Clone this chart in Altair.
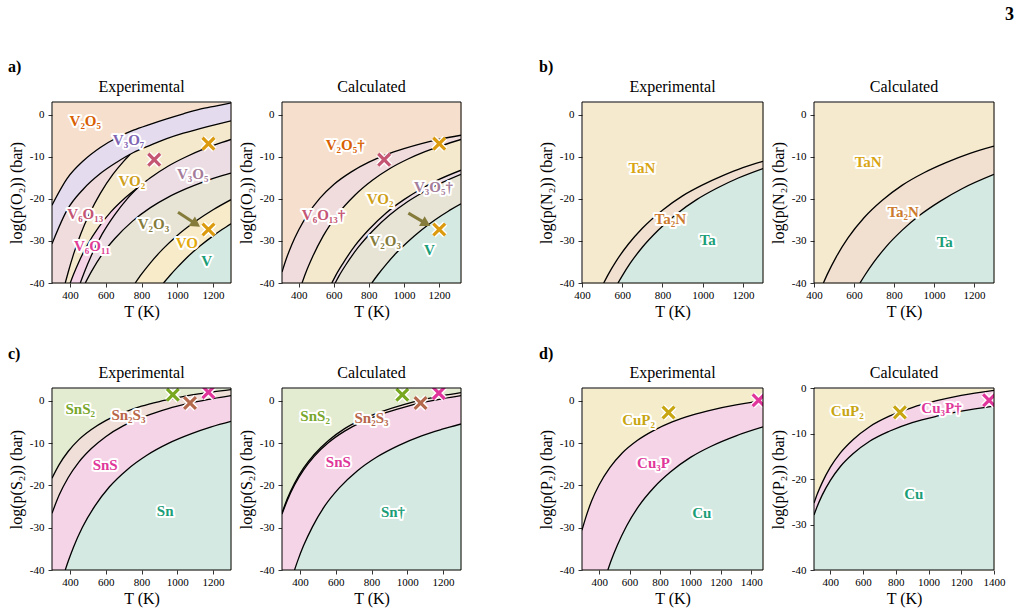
import altair as alt
import pandas as pd

FONT = "Liberation Serif, DejaVu Serif, serif"
TEAL = "#1b9e77"
TEAL_FILL = "#d3e9e1"
PINK_FILL = "#f6d4e7"

# ---------------- a) V-O ----------------
# experimental boundaries (T in K, log p(O2) in bar)
AE_T1 = [300, 384, 477, 570, 662, 755, 848, 941, 1034, 1127, 1220, 1300]
AE_C1 = [-21.5, -15.2, -10.9, -7.8, -5.5, -3.7, -2.3, -1.0, 0.2, 1.3, 2.1, 2.8]        # V2O5 | V3O7
AE_C2 = [-30.7, -22.7, -17.6, -14.0, -11.3, -9.0, -7.3, -5.7, -4.4, -3.3, -2.3, -1.5]  # V3O7 | lower oxides
AE_T3 = [374, 390, 420, 460, 510, 570, 640, 700, 737]
AE_C3 = [-40, -37.5, -33.2, -28.4, -23.5, -18.7, -14.2, -11.1, -9.4]                    # V6O13 | VO2
AE_T4 = [402, 420, 450, 500, 560, 630, 700, 783, 850, 950, 1050, 1150, 1250, 1300]
AE_C4 = [-40, -38.0, -35.0, -30.8, -26.8, -23.05, -20.1, -17.2, -15.0, -12.2, -10.0, -8.15, -6.6, -5.9]  # VO2 | V6O11, V3O5
AE_T5 = [458, 480, 520, 580, 650, 720, 783]
AE_C5 = [-40, -37.5, -33.45, -28.4, -23.8, -20.0, -17.2]                                # V6O11 | V3O5
AE_T6 = [486, 520, 580, 650, 750, 850, 950, 1050, 1150, 1250, 1300]
AE_C6 = [-40, -37.3, -33.2, -29.5, -25.3, -22.1, -19.6, -17.6, -15.9, -14.5, -13.9]    # V3O5 | V2O3
AE_T7 = [765, 800, 850, 920, 1000, 1100, 1200, 1300]
AE_C7 = [-40, -37.9, -35.2, -31.9, -28.7, -25.4, -22.6, -20.2]                          # V2O3 | VO
AE_T8 = [923, 960, 1000, 1060, 1130, 1200, 1250, 1300]
AE_C8 = [-40, -38.15, -36.3, -33.7, -31.1, -28.8, -27.3, -25.9]                         # VO | V
AE_PINCH_V6O13 = 737
AE_PINCH_V6O11 = 783

AE_LABELS = ["V₂O₅", "V₃O₇", "VO₂", "V₃O₅", "V₆O₁₃", "V₂O₃", "V₆O₁₁", "VO", "V"]
AE_LABEL_T = [486, 728, 746, 1086, 486, 867, 523, 1053, 1164]
AE_LABEL_P = [-1.5, -6.1, -15.8, -14.2, -23.7, -26.1, -31.1, -30.5, -34.8]
AE_LABEL_COL = ["#d95f02", "#8064b4", "#d09f1a", "#a57d9a", "#c45573", "#857c3c", "#df3d96", "#e3a80c", TEAL]
AE_X_T = [871, 1174, 1174]
AE_X_P = [-10.7, -6.9, -27.3]
AE_X_COL = ["#c45573", "#dc9a0e", "#dc9a0e"]
AE_ARROW_T = [1004, 1104]
AE_ARROW_P = [-23.2, -26.0]

# calculated boundaries
AC_T1 = [305, 330, 360, 400, 450, 520, 600, 700, 800, 900, 1000, 1100, 1200, 1325]
AC_C1 = [-37.4, -34.2, -30.95, -27.4, -23.8, -19.9, -16.6, -13.6, -11.3, -9.5, -8.1, -6.9, -5.9, -4.9]  # V2O5 | V6O13
AC_T2 = [419, 440, 480, 540, 620, 720, 820, 920, 1020, 1120, 1220, 1325]
AC_C2 = [-40, -37.6, -33.7, -28.8, -23.8, -19.15, -15.6, -12.8, -10.6, -8.8, -7.3, -5.9]               # V6O13 | VO2
AC_T3 = [589, 610, 650, 720, 800, 900, 1000, 1100, 1200, 1325]
AC_C3 = [-40, -38.3, -35.5, -31.2, -27.3, -23.3, -20.2, -17.6, -15.4, -13.2]                           # VO2 | V3O5
AC_T4 = [608, 630, 670, 740, 820, 920, 1020, 1120, 1220, 1325]
AC_C4 = [-40, -38.3, -35.6, -31.5, -27.7, -23.8, -20.7, -18.2, -16.1, -14.2]                           # V3O5 | V2O3
AC_T5 = [817, 850, 900, 960, 1030, 1100, 1180, 1250, 1325]
AC_C5 = [-40, -38.1, -35.5, -32.7, -29.9, -27.4, -24.9, -23.0, -21.2]                                  # V2O3 | V

AC_LABELS = ["V₂O₅†", "V₆O₁₃†", "VO₂", "V₃O₅†", "V₂O₃", "V"]
AC_LABEL_T = [665, 542, 864, 1168, 893, 1145]
AC_LABEL_P = [-7.3, -23.9, -20.0, -17.2, -30.0, -32.2]
AC_LABEL_COL = ["#d95f02", "#c45573", "#d09f1a", "#a57d9a", "#857c3c", TEAL]
AC_X_T = [887, 1201, 1201]
AC_X_P = [-10.7, -6.9, -27.3]
AC_X_COL = ["#c45573", "#dc9a0e", "#dc9a0e"]
AC_ARROW_T = [1025, 1126]
AC_ARROW_P = [-23.4, -25.9]

# ---------------- b) Ta-N ----------------
BE_T1 = [508, 530, 570, 630, 700, 800, 900, 1000, 1100, 1200, 1300]
BE_C1 = [-40, -38.0, -34.8, -30.8, -27.0, -22.7, -19.3, -16.7, -14.5, -12.6, -11.1]   # TaN | Ta2N
BE_T2 = [579, 600, 640, 700, 780, 870, 970, 1070, 1180, 1300]
BE_C2 = [-40, -38.3, -35.3, -31.5, -27.4, -23.6, -20.2, -17.5, -15.0, -12.8]          # Ta2N | Ta
BC_T1 = [447, 470, 510, 570, 650, 740, 840, 950, 1060, 1180, 1300]
BC_C1 = [-40, -37.6, -33.9, -29.3, -24.5, -20.4, -16.8, -13.8, -11.4, -9.2, -7.5]
BC_T2 = [630, 655, 700, 760, 840, 930, 1030, 1140, 1300]
BC_C2 = [-40, -38.1, -35.0, -31.4, -27.5, -23.85, -20.6, -17.6, -14.2]

B_LABELS = ["TaN", "Ta₂N", "Ta"]
B_LABEL_COL = ["#d9a514", "#cc7a2e", TEAL]
BE_LABEL_T = [698, 839, 1025]
BE_LABEL_P = [-12.6, -24.7, -29.7]
BC_LABEL_T = [671, 846, 1054]
BC_LABEL_P = [-11.3, -23.1, -30.3]

# ---------------- c) Sn-S ----------------
CE_T12 = [300, 340, 390, 450, 520, 600, 700, 800, 900, 1000, 1100, 1200, 1300]
CE_C1 = [-18.3, -15.1, -12.0, -9.2, -6.8, -4.7, -2.8, -1.3, -0.2, 0.7, 1.5, 2.1, 2.6]     # SnS2 | Sn2S3
CE_C2 = [-26.6, -22.3, -18.2, -14.5, -11.3, -8.5, -5.9, -4.0, -2.5, -1.3, -0.3, 0.5, 1.2]  # Sn2S3 | SnS
CE_T3 = [374, 390, 420, 470, 540, 620, 720, 830, 950, 1080, 1190, 1300]
CE_C3 = [-40, -38.0, -34.6, -29.9, -24.85, -20.4, -16.3, -12.9, -10.1, -7.8, -6.2, -4.9]  # SnS | Sn
CC_T12 = [300, 330, 370, 420, 480, 560, 650, 750, 860, 980, 1100, 1200, 1300]
CC_C1 = [-26.5, -23.1, -19.5, -15.95, -12.7, -9.4, -6.6, -4.35, -2.5, -0.9, 0.35, 1.2, 1.9]
CC_C2 = [-26.8, -23.5, -19.9, -16.4, -13.15, -9.9, -7.2, -4.95, -3.1, -1.55, -0.3, 0.5, 1.2]
CC_T3 = [370, 390, 420, 470, 540, 620, 720, 830, 950, 1080, 1190, 1300]
CC_C3 = [-40, -37.55, -34.3, -29.8, -24.8, -20.6, -16.6, -13.3, -10.6, -8.3, -6.8, -5.5]

C_LABEL_COL = ["#78a72b", "#b8664a", "#e0389a", TEAL]
CE_LABELS = ["SnS₂", "Sn₂S₃", "SnS", "Sn"]
CE_LABEL_T = [458, 727, 597, 932]
CE_LABEL_P = [-1.9, -3.3, -15.1, -26.0]
CC_LABELS = ["SnS₂", "Sn₂S₃", "SnS", "Sn†"]
CC_LABEL_T = [485, 800, 615, 920]
CC_LABEL_P = [-3.7, -4.1, -14.4, -26.2]
C_X_COL = ["#77a820", "#b4684c", "#e0359a"]
CE_X_T = [975, 1071, 1174]
CE_X_P = [1.4, -0.55, 2.0]
CC_X_T = [972, 1074, 1176]
CC_X_P = [1.4, -0.55, 1.8]

# ---------------- d) Cu-P ----------------
DE_T1 = [287, 310, 350, 400, 470, 550, 650, 760, 880, 1010, 1150, 1300, 1400, 1477]
DE_C1 = [-30.6, -27.8, -23.7, -19.85, -15.8, -12.4, -9.4, -7.0, -5.0, -3.4, -2.1, -1.0, -0.4, 0.0]  # CuP2 | Cu3P
DE_T2 = [457, 480, 520, 580, 660, 760, 870, 1000, 1140, 1300, 1477]
DE_C2 = [-40, -37.65, -34.1, -29.6, -24.9, -20.5, -16.8, -13.4, -10.7, -8.3, -6.2]                 # Cu3P | Cu
DC_T12 = [300, 320, 350, 400, 460, 540, 640, 760, 900, 1050, 1200, 1400]
DC_C1 = [-25.3, -23.3, -20.8, -17.4, -14.3, -11.3, -8.5, -6.2, -4.3, -2.8, -1.6, -0.5]
DC_C2 = [-27.9, -26.0, -23.55, -20.3, -17.3, -14.4, -11.7, -9.5, -7.6, -6.2, -5.1, -4.0]

D_LABEL_COL = ["#c8a612", "#e0389a", TEAL]
DE_LABELS = ["CuP₂", "Cu₃P", "Cu"]
DE_LABEL_T = [659, 757, 1075]
DE_LABEL_P = [-4.5, -14.75, -26.6]
DC_LABELS = ["CuP₂", "Cu₃P†", "Cu"]
DC_LABEL_T = [503, 1079, 910]
DC_LABEL_P = [-5.1, -4.4, -23.3]
D_X_COL = ["#c8a612", "#e0359a"]
DE_X_T = [856, 1448]
DE_X_P = [-2.8, 0.1]
DC_X_T = [825, 1370]
DC_X_P = [-5.36, -2.7]

Y_TICKS = [0, -10, -20, -30, -40]
X_TICKS = [400, 600, 800, 1000, 1200]
X_TICKS_D = [400, 600, 800, 1000, 1200, 1400]

X_PATH = "M-1,-1L1,1M-1,1L1,-1"


def cut(ts, vs, lo=None, hi=None):
    """Keep the part of a boundary with lo < T <= hi."""
    out_t, out_v = [], []
    for t, v in zip(ts, vs):
        if (lo is None or t > lo) and (hi is None or t <= hi):
            out_t.append(t)
            out_v.append(v)
    return out_t, out_v


def join(*parts):
    ts, vs = [], []
    for t, v in parts:
        ts += t
        vs += v
    return ts, vs


def one_row():
    return alt.Data(values=[{}])


def note(text, px, py, size, weight="bold", align="left"):
    return (alt.Chart(one_row())
            .mark_text(text=text, font=FONT, fontSize=size, fontWeight=weight, align=align,
                       baseline="alphabetic", color="black")
            .encode(x=alt.value(px), y=alt.value(py)))


def diagram(title, xdom, xticks, ydom, ylab, top_fill, regions, lines,
            labels, crosses, w, h, arrow=None, notes=()):
    xs = alt.Scale(domain=xdom, nice=False, zero=False)
    ys = alt.Scale(domain=ydom, nice=False, zero=False)
    X = alt.X("T:Q", scale=xs,
              axis=alt.Axis(values=xticks, title="T (K)", labelExpr="toString(datum.value)"))
    Y = alt.Y("lp:Q", scale=ys,
              axis=alt.Axis(values=Y_TICKS, title=ylab, labelExpr="toString(datum.value)"))
    layers = []
    # phase fields, painted from the most oxidised downwards
    for (ts, vs), col in regions:
        df = pd.DataFrame({"T": ts, "lp": vs})
        layers.append(alt.Chart(df).mark_area(color=col, clip=True, interpolate="monotone")
                      .encode(x=X, y=Y, y2=alt.Y2Datum(ydom[0])))
    # phase boundaries
    for ts, vs in lines:
        df = pd.DataFrame({"T": ts, "lp": vs})
        layers.append(alt.Chart(df).mark_line(color="black", strokeWidth=1.3, clip=True,
                                              interpolate="monotone")
                      .encode(x=X, y=Y))
    if arrow is not None:
        (ats, aps), acol, ang = arrow
        adf = pd.DataFrame({"T": ats, "lp": aps})
        layers.append(alt.Chart(adf).mark_line(color=acol, strokeWidth=3).encode(x=X, y=Y))
        layers.append(alt.Chart(adf.iloc[[-1]]).mark_point(shape="triangle-right", filled=True,
                                                           size=130, angle=ang, color=acol, opacity=1)
                      .encode(x=X, y=Y))
    # experimental points
    cts, cps, ccols = crosses
    if cts:
        cdf = pd.DataFrame({"T": cts, "lp": cps, "c": ccols})
        layers.append(alt.Chart(cdf).mark_point(shape=X_PATH, filled=False, size=140, strokeWidth=6,
                                                color="white", opacity=1, clip=True)
                      .encode(x=X, y=Y))
        layers.append(alt.Chart(cdf).mark_point(shape=X_PATH, filled=False, size=140, strokeWidth=3.2,
                                                opacity=1, clip=True)
                      .encode(x=X, y=Y, color=alt.Color("c:N", scale=None)))
    # phase names with a white halo
    lnames, lts, lps, lcols = labels
    ldf = pd.DataFrame({"T": lts, "lp": lps, "name": lnames, "c": lcols})
    txt = dict(font=FONT, fontSize=15, fontWeight="bold", align="center", baseline="middle")
    layers.append(alt.Chart(ldf).mark_text(color="white", stroke="white", strokeWidth=4,
                                           strokeJoin="round", **txt)
                  .encode(x=X, y=Y, text="name:N"))
    layers.append(alt.Chart(ldf).mark_text(**txt)
                  .encode(x=X, y=Y, text="name:N", color=alt.Color("c:N", scale=None)))
    # axes frame
    layers.append(alt.Chart(one_row()).mark_rect(fillOpacity=0, stroke="black", strokeWidth=1)
                  .encode(x=alt.value(0), x2=alt.value("width"), y=alt.value(0), y2=alt.value("height")))
    # panel heading
    layers.append(note(title, w / 2, -10, 16, weight="normal", align="center"))
    for text, px, py, size in notes:
        layers.append(note(text, px, py, size))
    return alt.layer(*layers).properties(
        width=w, height=h,
        view=alt.ViewBackground(fill=top_fill, strokeOpacity=0),
    )


YO = "log(p(O₂)) (bar)"
YN = "log(p(N₂)) (bar)"
YS = "log(p(S₂)) (bar)"
YP = "log(p(P₂)) (bar)"

a_exp = diagram(
    "Experimental", [300, 1300], X_TICKS, [-40, 3], YO, "#f6dfcc",
    regions=[
        ((AE_T1, AE_C1), "#e4dcee"),
        ((AE_T1, AE_C2), "#f0dcdc"),
        (join((AE_T3, AE_C3), cut(AE_T1, AE_C2, lo=AE_PINCH_V6O13)), "#f5e9cd"),
        (cut(AE_T4, AE_C4, hi=AE_PINCH_V6O11), PINK_FILL),
        (join((AE_T5, AE_C5), cut(AE_T4, AE_C4, lo=AE_PINCH_V6O11)), "#ecdde4"),
        ((AE_T6, AE_C6), "#e7e4d6"),
        ((AE_T7, AE_C7), "#f8ebca"),
        ((AE_T8, AE_C8), TEAL_FILL),
    ],
    lines=[(AE_T1, AE_C1), (AE_T1, AE_C2), (AE_T3, AE_C3), (AE_T4, AE_C4), (AE_T5, AE_C5),
           (AE_T6, AE_C6), (AE_T7, AE_C7), (AE_T8, AE_C8)],
    labels=(AE_LABELS, AE_LABEL_T, AE_LABEL_P, AE_LABEL_COL),
    crosses=(AE_X_T, AE_X_P, AE_X_COL),
    w=179, h=181,
    arrow=((AE_ARROW_T, AE_ARROW_P), "#857c3c", 33.6),
    notes=[("a)", -44, -30, 16)],
)

a_calc = diagram(
    "Calculated", [305, 1325], X_TICKS, [-40, 3], YO, "#f6dfcc",
    regions=[
        ((AC_T1, AC_C1), "#f0dcdc"),
        ((AC_T2, AC_C2), "#f5e9cd"),
        ((AC_T3, AC_C3), "#ecdde4"),
        ((AC_T4, AC_C4), "#e7e4d6"),
        ((AC_T5, AC_C5), TEAL_FILL),
    ],
    lines=[(AC_T1, AC_C1), (AC_T2, AC_C2), (AC_T3, AC_C3), (AC_T4, AC_C4), (AC_T5, AC_C5)],
    labels=(AC_LABELS, AC_LABEL_T, AC_LABEL_P, AC_LABEL_COL),
    crosses=(AC_X_T, AC_X_P, AC_X_COL),
    w=179, h=181,
    arrow=((AC_ARROW_T, AC_ARROW_P), "#857c3c", 30),
)

b_exp = diagram(
    "Experimental", [400, 1300], X_TICKS, [-40, 3], YN, "#f5eacd",
    regions=[((BE_T1, BE_C1), "#f1dfcf"), ((BE_T2, BE_C2), TEAL_FILL)],
    lines=[(BE_T1, BE_C1), (BE_T2, BE_C2)],
    labels=(B_LABELS, BE_LABEL_T, BE_LABEL_P, B_LABEL_COL),
    crosses=([], [], []),
    w=181, h=181,
    notes=[("b)", -43, -30, 16)],
)

b_calc = diagram(
    "Calculated", [400, 1300], X_TICKS, [-40, 3], YN, "#f5eacd",
    regions=[((BC_T1, BC_C1), "#f1dfcf"), ((BC_T2, BC_C2), TEAL_FILL)],
    lines=[(BC_T1, BC_C1), (BC_T2, BC_C2)],
    labels=(B_LABELS, BC_LABEL_T, BC_LABEL_P, B_LABEL_COL),
    crosses=([], [], []),
    w=180, h=181,
    notes=[("3", 191, -82, 18)],
)

c_exp = diagram(
    "Experimental", [300, 1300], X_TICKS, [-40, 3], YS, "#e3ecd0",
    regions=[((CE_T12, CE_C1), "#efdfd8"), ((CE_T12, CE_C2), PINK_FILL), ((CE_T3, CE_C3), TEAL_FILL)],
    lines=[(CE_T12, CE_C1), (CE_T12, CE_C2), (CE_T3, CE_C3)],
    labels=(CE_LABELS, CE_LABEL_T, CE_LABEL_P, C_LABEL_COL),
    crosses=(CE_X_T, CE_X_P, C_X_COL),
    w=179, h=182,
    notes=[("c)", -44, -29, 16)],
)

c_calc = diagram(
    "Calculated", [300, 1300], X_TICKS, [-40, 3], YS, "#e3ecd0",
    regions=[((CC_T12, CC_C1), "#efdfd8"), ((CC_T12, CC_C2), PINK_FILL), ((CC_T3, CC_C3), TEAL_FILL)],
    lines=[(CC_T12, CC_C1), (CC_T12, CC_C2), (CC_T3, CC_C3)],
    labels=(CC_LABELS, CC_LABEL_T, CC_LABEL_P, C_LABEL_COL),
    crosses=(CC_X_T, CC_X_P, C_X_COL),
    w=179, h=182,
)

d_exp = diagram(
    "Experimental", [287, 1477], X_TICKS_D, [-40, 3], YP, "#f4ecca",
    regions=[((DE_T1, DE_C1), PINK_FILL), ((DE_T2, DE_C2), TEAL_FILL)],
    lines=[(DE_T1, DE_C1), (DE_T2, DE_C2)],
    labels=(DE_LABELS, DE_LABEL_T, DE_LABEL_P, D_LABEL_COL),
    crosses=(DE_X_T, DE_X_P, D_X_COL),
    w=181, h=182,
    notes=[("d)", -43, -29, 16)],
)

d_calc = diagram(
    "Calculated", [300, 1400], X_TICKS_D, [-40, 0], YP, "#f4ecca",
    regions=[((DC_T12, DC_C1), PINK_FILL), ((DC_T12, DC_C2), TEAL_FILL)],
    lines=[(DC_T12, DC_C1), (DC_T12, DC_C2)],
    labels=(DC_LABELS, DC_LABEL_T, DC_LABEL_P, D_LABEL_COL),
    crosses=(DC_X_T, DC_X_P, D_X_COL),
    w=180, h=182,
)


def gap(h):
    return (alt.Chart(one_row()).mark_point(opacity=0)
            .encode(x=alt.value(0), y=alt.value(0))
            .properties(width=19, height=h, view=alt.ViewBackground(strokeOpacity=0)))


chart = alt.concat(
    a_exp, a_calc, gap(181), b_exp, b_calc,
    c_exp, c_calc, gap(182), d_exp, d_calc,
    columns=5, spacing={"row": 105, "column": 51}, bounds="flush",
).properties(
    padding={"left": 8, "top": 6, "right": 6, "bottom": 6},
    background="white",
).configure_axis(
    labelFont=FONT, labelFontSize=11, labelColor="black",
    titleFont=FONT, titleFontSize=16, titleFontWeight="normal", titleColor="black",
    tickColor="black", tickSize=4, tickWidth=0.8, domain=False, grid=False,
    labelFlush=False, labelOverlap=False,
).configure_axisLeft(
    labelPadding=4, titlePadding=5,
).configure_axisBottom(
    labelPadding=2, titlePadding=3,
).configure_view(
    strokeOpacity=0,
)

chart.save("out.html", embed_options={"renderer": "svg", "actions": False})
